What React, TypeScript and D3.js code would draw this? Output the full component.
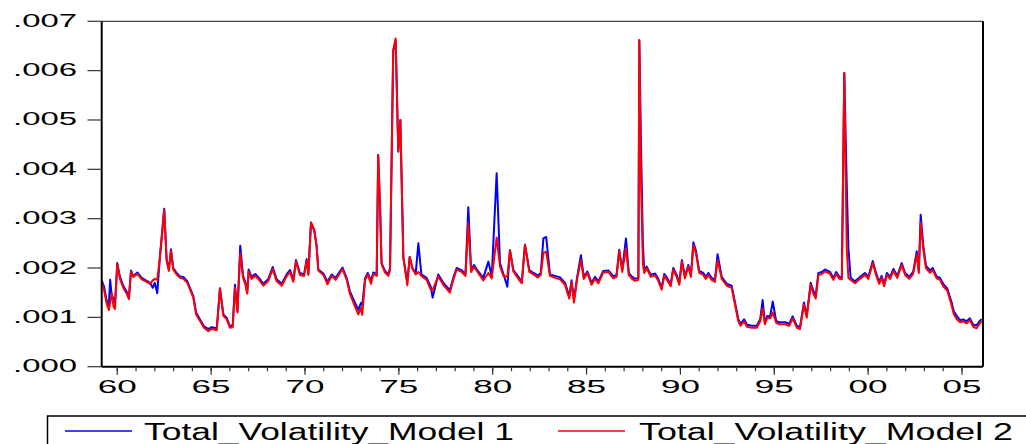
import React from 'react';
import * as d3 from 'd3';

const dates = [
  1959.17, 1959.30, 1959.43, 1959.55, 1959.62, 1959.70, 1959.80, 1959.88,
  1960.00, 1960.14, 1960.32, 1960.50, 1960.62, 1960.73, 1960.85,
  1961.07, 1961.30, 1961.57, 1961.74, 1961.89,
  1962.00, 1962.13, 1962.27, 1962.50, 1962.63, 1962.75, 1962.86, 1962.98,
  1963.16, 1963.34, 1963.52, 1963.73, 1963.91,
  1964.05, 1964.20, 1964.40, 1964.62, 1964.85,
  1965.03, 1965.30, 1965.47, 1965.65, 1965.83,
  1966.00, 1966.15, 1966.27, 1966.40, 1966.55, 1966.70, 1966.82, 1966.92,
  1967.00, 1967.15, 1967.35, 1967.55, 1967.78,
  1968.05, 1968.28, 1968.49, 1968.76,
  1969.02, 1969.20, 1969.38, 1969.52, 1969.73, 1969.95,
  1970.09, 1970.18, 1970.32, 1970.50, 1970.62, 1970.71, 1970.98,
  1971.20, 1971.42, 1971.63, 1971.80,
  1972.00, 1972.22, 1972.40, 1972.60, 1972.84, 1972.98,
  1973.05, 1973.20, 1973.34, 1973.52, 1973.64, 1973.82, 1973.90,
  1974.00, 1974.08, 1974.26, 1974.44, 1974.53, 1974.70, 1974.83, 1974.97,
  1975.08, 1975.24, 1975.45, 1975.58, 1975.72, 1975.90,
  1976.04, 1976.20, 1976.48, 1976.70, 1976.80,
  1977.10, 1977.37, 1977.72, 1977.90,
  1978.08, 1978.35, 1978.55, 1978.70, 1978.85,
  1979.00, 1979.23, 1979.50, 1979.77, 1979.95,
  1980.21, 1980.39, 1980.57, 1980.78, 1980.92,
  1981.10, 1981.37, 1981.55, 1981.72, 1981.95,
  1982.17, 1982.40, 1982.56, 1982.70, 1982.85,
  1983.05, 1983.32, 1983.59, 1983.85,
  1984.08, 1984.20, 1984.33, 1984.50, 1984.70, 1984.85,
  1985.04, 1985.27, 1985.45, 1985.63, 1985.89,
  1986.16, 1986.43, 1986.60, 1986.74, 1986.90,
  1987.10, 1987.25, 1987.40, 1987.58, 1987.76, 1987.81, 1987.90,
  1988.00, 1988.07, 1988.20, 1988.42, 1988.65, 1988.82,
  1989.00, 1989.14, 1989.30, 1989.48, 1989.62, 1989.80, 1989.94,
  1990.08, 1990.24, 1990.42, 1990.56, 1990.69, 1990.83,
  1991.00, 1991.22, 1991.35, 1991.49, 1991.66, 1991.84, 1991.98,
  1992.20, 1992.47, 1992.73, 1992.91,
  1993.08, 1993.20, 1993.39, 1993.55, 1993.80,
  1994.07, 1994.25, 1994.38, 1994.50, 1994.63, 1994.78, 1994.92,
  1995.10, 1995.27, 1995.57, 1995.80, 1995.98,
  1996.20, 1996.37, 1996.58, 1996.73, 1996.94,
  1997.08, 1997.21, 1997.35, 1997.53, 1997.70, 1997.97,
  1998.15, 1998.30, 1998.47, 1998.60, 1998.73, 1998.86, 1998.95,
  1999.07, 1999.30, 1999.57, 1999.83,
  2000.01, 2000.25, 2000.42, 2000.59, 2000.72, 2000.85,
  2001.00, 2001.17, 2001.35, 2001.55, 2001.79, 2001.97,
  2002.19, 2002.40, 2002.59, 2002.70, 2002.80, 2002.94,
  2003.08, 2003.30, 2003.44, 2003.65, 2003.83,
  2004.00, 2004.22, 2004.45, 2004.57, 2004.72, 2004.90,
  2005.07, 2005.25, 2005.42, 2005.60, 2005.78, 2005.95, 2006.05,
];

// Total_Volatility_Model 1, in thousandths
const model1 = [
  1.75, 1.62, 1.35, 1.25, 1.76, 1.45, 1.38, 1.30,
  2.10, 1.82, 1.64, 1.52, 1.40, 1.95, 1.84,
  1.91, 1.80, 1.74, 1.70, 1.60,
  1.70, 1.49, 2.23, 3.20, 2.17, 1.97, 2.38, 2.00,
  1.90, 1.83, 1.82, 1.73, 1.56,
  1.43, 1.10, 0.96, 0.82, 0.76,
  0.80, 0.78, 1.59, 1.06, 0.99,
  0.82, 0.84, 1.66, 1.12, 2.45, 1.84, 1.72, 1.50,
  1.97, 1.82, 1.88, 1.80, 1.68,
  1.78, 2.02, 1.77, 1.68,
  1.87, 1.96, 1.76, 2.16, 1.90, 1.87,
  2.18, 1.89, 2.92, 2.75, 2.43, 1.97, 1.89,
  1.72, 1.87, 1.80, 1.90,
  2.01, 1.80, 1.52, 1.35, 1.15, 1.29,
  1.24, 1.79, 1.90, 1.74, 1.91, 1.87, 4.29,
  3.20, 2.10, 1.94, 1.87, 2.00, 6.40, 6.60, 4.36,
  5.00, 2.20, 1.72, 2.22, 2.00, 1.90,
  2.50, 1.87, 1.80, 1.62, 1.40,
  1.87, 1.70, 1.55, 1.80,
  2.00, 1.95, 1.88, 3.23, 1.95,
  2.06, 1.93, 1.80, 2.13, 1.83,
  3.92, 2.10, 1.88, 1.62, 2.36,
  1.96, 1.82, 1.72, 2.47, 1.96,
  1.90, 1.85, 1.90, 2.60, 2.63,
  1.87, 1.84, 1.81, 1.70,
  1.43, 1.75, 1.36, 1.82, 2.26, 1.82,
  1.93, 1.70, 1.82, 1.73, 1.94,
  1.95, 1.83, 1.86, 2.37, 1.96,
  2.60, 1.90, 1.83, 1.78, 1.80, 6.61, 4.50,
  2.50, 1.95, 2.03, 1.86, 1.89, 1.78,
  1.60, 1.88, 1.79, 1.67, 2.00, 1.86, 1.70,
  2.16, 1.83, 2.06, 1.86, 2.52, 2.35,
  1.94, 1.90, 1.82, 1.90, 1.80, 1.76, 2.28,
  1.82, 1.68, 1.64, 1.30,
  0.97, 0.87, 0.96, 0.85, 0.83,
  0.83, 0.96, 1.35, 0.90, 1.03, 1.02, 1.32,
  0.93, 0.90, 0.90, 0.87, 1.02,
  0.83, 0.80, 1.30, 1.03, 1.70,
  1.54, 1.44, 1.90, 1.92, 1.97, 1.92,
  1.80, 1.92, 1.82, 1.81, 5.95, 3.70, 2.40,
  1.80, 1.73, 1.82, 1.90,
  1.82, 2.14, 1.90, 1.72, 1.84, 1.67,
  1.90, 1.82, 1.98, 1.84, 2.10, 1.90,
  1.82, 1.92, 2.34, 1.95, 3.08, 2.45,
  2.05, 1.95, 2.00, 1.83, 1.80,
  1.68, 1.58, 1.30, 1.12, 1.03, 0.94,
  0.96, 0.92, 0.98, 0.85, 0.84, 0.93, 0.96,
];

// Total_Volatility_Model 2, in thousandths
const model2 = [
  1.72, 1.55, 1.28, 1.15, 1.30, 1.49, 1.22, 1.17,
  2.08, 1.78, 1.60, 1.48, 1.37, 1.93, 1.82,
  1.88, 1.77, 1.72, 1.68, 1.75,
  1.78, 1.76, 2.20, 3.18, 2.14, 1.94, 2.35, 1.97,
  1.87, 1.80, 1.78, 1.70, 1.53,
  1.40, 1.06, 0.93, 0.79, 0.72,
  0.77, 0.74, 1.58, 1.03, 0.96,
  0.79, 0.80, 1.60, 1.10, 2.30, 1.80, 1.68, 1.48,
  1.93, 1.78, 1.84, 1.76, 1.64,
  1.74, 1.98, 1.73, 1.64,
  1.83, 1.92, 1.72, 2.13, 1.86, 1.84,
  2.15, 1.86, 2.92, 2.77, 2.45, 1.95, 1.86,
  1.67, 1.84, 1.76, 1.86,
  1.98, 1.76, 1.47, 1.28, 1.06, 1.20,
  1.05, 1.75, 1.87, 1.68, 1.88, 1.84, 4.29,
  3.24, 2.08, 1.91, 1.84, 1.96, 6.42, 6.65, 4.36,
  5.00, 2.23, 1.65, 2.23, 1.99, 1.87,
  1.92, 1.84, 1.76, 1.56, 1.55,
  1.83, 1.66, 1.50, 1.76,
  1.97, 1.92, 1.84, 2.91, 1.92,
  2.02, 1.90, 1.75, 1.90, 1.79,
  2.62, 2.03, 1.84, 1.82, 2.36,
  1.93, 1.78, 1.69, 2.47, 1.92,
  1.87, 1.81, 1.86, 2.30, 2.33,
  1.84, 1.80, 1.77, 1.66,
  1.38, 1.72, 1.30, 1.78, 2.16, 1.78,
  1.90, 1.66, 1.78, 1.69, 1.91,
  1.92, 1.79, 1.82, 2.35, 1.92,
  2.40, 1.86, 1.79, 1.74, 1.76, 6.62, 3.80,
  2.10, 1.90, 2.00, 1.82, 1.85, 1.74,
  1.56, 1.84, 1.75, 1.63, 1.97, 1.82, 1.66,
  2.13, 1.79, 2.03, 1.82, 2.46, 2.30,
  1.90, 1.86, 1.78, 1.86, 1.76, 1.72, 2.16,
  1.78, 1.64, 1.60, 1.25,
  0.93, 0.83, 0.92, 0.81, 0.79,
  0.79, 0.92, 1.18, 0.86, 0.99, 0.98, 1.10,
  0.89, 0.86, 0.86, 0.83, 0.98,
  0.79, 0.76, 1.26, 0.99, 1.66,
  1.48, 1.38, 1.86, 1.88, 1.93, 1.88,
  1.76, 1.88, 1.78, 1.77, 5.95, 2.40, 1.80,
  1.76, 1.69, 1.78, 1.86,
  1.78, 2.10, 1.86, 1.68, 1.80, 1.63,
  1.86, 1.78, 1.94, 1.80, 2.06, 1.86,
  1.78, 1.88, 2.28, 1.90, 2.92, 2.38,
  2.00, 1.90, 1.96, 1.79, 1.76,
  1.63, 1.54, 1.24, 1.06, 0.96, 0.90,
  0.92, 0.88, 0.94, 0.81, 0.78, 0.88, 0.92,
];

const yTickValues = [0, 0.001, 0.002, 0.003, 0.004, 0.005, 0.006, 0.007];
const yTickLabels = ['.000', '.001', '.002', '.003', '.004', '.005', '.006', '.007'];
const xMajorYears = [1960, 1965, 1970, 1975, 1980, 1985, 1990, 1995, 2000, 2005];
const xMajorLabels = ['60', '65', '70', '75', '80', '85', '90', '95', '00', '05'];
const xMinorYears = d3.range(1960, 2006);
const seriesNames = ['Total_Volatility_Model 1', 'Total_Volatility_Model 2'];
const seriesColors = ['#0000ff', '#ff0000'];

const FONT = "'Liberation Sans', Arial, sans-serif";

export default function App() {
  const left = 101.7, right = 983, top = 21.3, bottom = 366.7;
  const x = d3.scaleLinear().domain([1959.17, 2006.12]).range([left, right]);
  const y = d3.scaleLinear().domain([0, 0.007]).range([bottom, top]);

  const series = [model1, model2].map((vals) =>
    vals.map((v, i) => [dates[i], v / 1000] as [number, number])
  );
  const line = d3
    .line<[number, number]>()
    .x((d) => x(d[0]))
    .y((d) => y(d[1]));

  return (
    <svg
      width={1026}
      height={444}
      style={{ position: 'absolute', left: 0, top: 0, background: '#fff' }}
    >
      <rect x={0} y={0} width={1026} height={444} fill="#fff" />
      {/* series */}
      {series.map((s, i) => (
        <path
          key={i}
          d={line(s) || ''}
          fill="none"
          stroke={seriesColors[i]}
          strokeWidth={2}
          strokeLinejoin="round"
        />
      ))}
      {/* frame */}
      <line x1={left} x2={right} y1={top} y2={top} stroke="#444" strokeWidth={1.2} />
      <line x1={left} x2={left} y1={top} y2={bottom} stroke="#000" strokeWidth={2} />
      <line x1={right} x2={right} y1={top} y2={bottom} stroke="#000" strokeWidth={2} />
      <line x1={left} x2={right} y1={bottom} y2={bottom} stroke="#000" strokeWidth={2} />
      {/* y axis */}
      {yTickValues.map((v, i) => (
        <g key={i}>
          <line x1={87.5} x2={left} y1={y(v)} y2={y(v)} stroke="#333" strokeWidth={1.2} />
          <text
            x={13}
            y={y(v) + 5.5}
            fontFamily={FONT}
            fontSize={18.5}
            textLength={64}
            lengthAdjust="spacingAndGlyphs"
            fill="#000"
          >
            {yTickLabels[i]}
          </text>
        </g>
      ))}
      {/* x axis */}
      {xMinorYears.map((yr) => (
        <line key={yr} x1={x(yr)} x2={x(yr)} y1={bottom} y2={bottom + 4.5} stroke="#333" strokeWidth={1.2} />
      ))}
      {xMajorYears.map((yr, i) => (
        <g key={yr}>
          <line x1={x(yr)} x2={x(yr)} y1={bottom} y2={bottom + 8} stroke="#333" strokeWidth={1.2} />
          <text
            x={x(yr) - 19.5}
            y={393}
            fontFamily={FONT}
            fontSize={18}
            textLength={39}
            lengthAdjust="spacingAndGlyphs"
            fill="#000"
          >
            {xMajorLabels[i]}
          </text>
        </g>
      ))}
      {/* legend */}
      <rect x={47.5} y={416} width={1000} height={40} fill="none" stroke="#000" strokeWidth={1.5} />
      <line x1={65} x2={132} y1={431} y2={431} stroke={seriesColors[0]} strokeWidth={1.5} />
      <text x={144} y={440} fontFamily={FONT} fontSize={23} textLength={370} lengthAdjust="spacingAndGlyphs" fill="#000">
        {seriesNames[0]}
      </text>
      <line x1={558} x2={625} y1={431} y2={431} stroke={seriesColors[1]} strokeWidth={1.5} />
      <text x={639} y={440} fontFamily={FONT} fontSize={23} textLength={374} lengthAdjust="spacingAndGlyphs" fill="#000">
        {seriesNames[1]}
      </text>
    </svg>
  );
}
